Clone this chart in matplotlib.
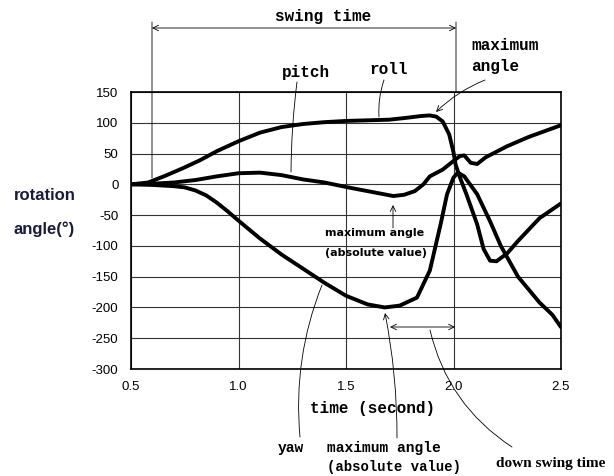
import numpy as np
import matplotlib
matplotlib.use("Agg")
import matplotlib.pyplot as plt

# curves (time in s, angle in degrees)
roll_t = [0.5, 0.58, 0.66, 0.74, 0.82, 0.9, 1.0, 1.1, 1.2, 1.3, 1.4, 1.5, 1.6, 1.7, 1.78, 1.85,
          1.89, 1.92, 1.95, 1.98, 2.0, 2.01, 2.03, 2.06, 2.11, 2.14, 2.17, 2.2, 2.25, 2.3, 2.4, 2.5]
roll_v = [0, 3, 14, 26, 39, 54, 70, 84, 93, 98, 101, 103, 104, 105, 108, 111,
          112, 110, 102, 81, 52, 32, 11, -16, -65, -105, -124, -125, -112, -92, -55, -31]

pitch_t = [0.5, 0.6, 0.7, 0.8, 0.9, 1.0, 1.1, 1.2, 1.3, 1.4, 1.51, 1.63, 1.72, 1.77, 1.82,
           1.86, 1.89, 1.95, 2.0, 2.03, 2.05, 2.08, 2.11, 2.15, 2.25, 2.35, 2.5]
pitch_v = [0, 1, 3, 7, 13, 18, 19, 15, 8, 3, -5, -13, -19, -17, -11,
           0, 13, 24, 38, 46, 47, 35, 33, 44, 62, 77, 96]

yaw_t = [0.5, 0.6, 0.7, 0.75, 0.8, 0.85, 0.9, 0.95, 1.0, 1.1, 1.2, 1.3, 1.4, 1.5, 1.6, 1.68,
         1.75, 1.83, 1.89, 1.94, 1.97, 2.0, 2.02, 2.05, 2.11, 2.17, 2.22, 2.3, 2.4, 2.46, 2.5]
yaw_v = [0, -1, -3, -5, -10, -18, -30, -44, -59, -88, -114, -137, -160, -181, -195, -200,
         -197, -184, -140, -65, -16, 11, 19, 13, -16, -60, -100, -150, -192, -212, -232]

x_ticks = [0.5, 1.0, 1.5, 2.0, 2.5]
x_labels = ["0.5", "1.0", "1.5", "2.0", "2.5"]
y_ticks = [150, 100, 50, 0, -50, -100, -150, -200, -250, -300]

W, H = 614, 476
fig = plt.figure(figsize=(W / 100, H / 100), dpi=100)
ax = fig.add_axes([131 / W, 1 - 369 / H, 430 / W, 277 / H])


def px(x, y):
    return (x / W, 1 - y / H)


def seg(x0, y0, x1, y1, style="-", rad=0.0):
    ax.annotate("", xy=px(x1, y1), xytext=px(x0, y0), xycoords="figure fraction",
                textcoords="figure fraction", annotation_clip=False,
                arrowprops=dict(arrowstyle=style, color="black", lw=0.6,
                                shrinkA=0, shrinkB=0,
                                connectionstyle="arc3,rad=%s" % rad))


for t, v in [(roll_t, roll_v), (pitch_t, pitch_v), (yaw_t, yaw_v)]:
    ax.plot(t, v, color="black", lw=2.8, solid_joinstyle="round", solid_capstyle="round", zorder=3)

ax.set_xlim(0.5, 2.5)
ax.set_ylim(-300, 150)
ax.set_xticks(x_ticks)
ax.set_xticklabels(x_labels)
ax.set_yticks(y_ticks)
ax.set_yticklabels([str(v) for v in y_ticks])
ax.tick_params(length=0, labelsize=9.5, labelfontfamily="Liberation Sans")
ax.tick_params(axis="y", pad=9)
ax.tick_params(axis="x", pad=9)
ax.grid(True, color="#333333", lw=0.8)
for s in ax.spines.values():
    s.set_linewidth(1.2)

mono = dict(family="Liberation Mono", weight="bold", color="black")

# swing time bracket
seg(152, 22, 152, 178)
seg(456, 22, 456, 92)
seg(152, 28, 456, 28, "<->")
fig.text(*px(323, 17), "swing time", ha="center", va="center", fontsize=11.5, **mono)

fig.text(*px(306, 72), "pitch", ha="center", va="center", fontsize=11.5, **mono)
fig.text(*px(389, 70), "roll", ha="center", va="center", fontsize=11.5, **mono)
fig.text(*px(471, 46), "maximum", ha="left", va="center", fontsize=11.5, **mono)
fig.text(*px(471, 67), "angle", ha="left", va="center", fontsize=11.5, **mono)

# leader lines at the top
seg(297, 82, 291, 172, rad=0.03)
seg(384, 80, 379, 117, rad=0.1)
seg(485, 80, 436, 112, "->", rad=0.1)

fig.text(*px(325, 233), "maximum angle", ha="left", va="center", fontsize=8,
         family="DejaVu Sans", weight="bold")
fig.text(*px(325, 253), "(absolute value)", ha="left", va="center", fontsize=8,
         family="DejaVu Sans", weight="bold")
seg(393, 228, 393, 205, "->")

# y label
fig.text(*px(14, 196), "rotation", ha="left", va="center", fontsize=12,
         family="Liberation Sans", weight="bold", color="#1a1a3a")
fig.text(*px(14, 229), "angle(\u00b0)", ha="left", va="center", fontsize=12,
         family="Liberation Sans", weight="bold", color="#1a1a3a")

fig.text(*px(373, 409), "time (second)", ha="center", va="center", fontsize=11.5, **mono)

# bottom annotations
fig.text(*px(291, 448), "yaw", ha="center", va="center", fontsize=10.5, **mono)
fig.text(*px(327, 448), "maximum angle", ha="left", va="center", fontsize=10.5, **mono)
fig.text(*px(327, 467), "(absolute value)", ha="left", va="center", fontsize=10, **mono)
fig.text(*px(496, 464), "down swing time", ha="left", va="center", fontsize=11,
         family="Liberation Serif", weight="bold")

seg(300, 437, 322, 285, rad=-0.12)
seg(397, 438, 385, 313, "->", rad=0.05)
seg(390, 327, 455, 327, "<->")
seg(430, 330, 512, 447, rad=0.2)

fig.savefig("out.png", dpi=100)
